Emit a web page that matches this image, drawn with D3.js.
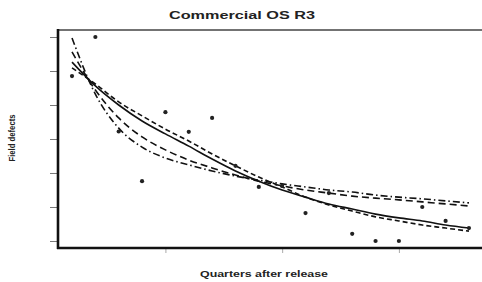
<!DOCTYPE html>
<html>
<head>
<meta charset="utf-8">
<script src="https://cdn.jsdelivr.net/npm/d3@7"></script>
<style>
  body { margin: 0; background: #fff; }
  svg { display: block; }
  text { font-family: "Liberation Sans", Arial, sans-serif; font-weight: bold; fill: #222; }
</style>
</head>
<body>
<div id="chart"></div>
<script>
// quarters after release
const quarters = [1, 2, 3, 4, 5, 6, 7, 8, 9, 10, 11, 12, 13, 14, 15, 16, 17, 18];
// observed field defects
const defects = [48.5, 60, 32.2, 17.6, 37.9, 32.1, 36.2, 22.1, 15.9, 16.2, 8.2, 14.1, 2.1, 0, 0, 10, 5.9, 3.8];
// fitted model curves
const fitSolid = [52.6, 45.6, 40.0, 35.3, 31.5, 27.9, 24.1, 20.6, 17.6, 15.0, 12.9, 10.9, 9.4, 7.9, 6.8, 5.9, 4.7, 3.8];
const fitDashed = [50.9, 46.2, 40.9, 36.8, 32.9, 29.4, 25.6, 22.1, 18.8, 15.9, 12.9, 10.6, 8.8, 7.1, 5.9, 4.7, 3.8, 2.9];
const fitLongDash = [55.6, 44.4, 36.2, 30.6, 26.8, 23.8, 21.5, 19.4, 17.6, 16.2, 15.0, 14.1, 13.2, 12.6, 12.1, 11.5, 10.9, 10.3];
const fitDashDot = [59.7, 43.2, 33.2, 27.6, 24.4, 22.4, 20.6, 19.1, 17.9, 16.8, 15.9, 15.0, 14.4, 13.5, 12.9, 12.4, 11.8, 11.2];
const xTicks = [5, 10, 15];
const yTicks = [0, 10, 20, 30, 40, 50, 60];

const W = 482, H = 282;
const svg = d3.select("#chart").append("svg").attr("width", W).attr("height", H);

const x = d3.scaleLinear().domain([0.4, 18.7]).range([58, 485.3]);
const y = d3.scaleLinear().domain([-2.06, 62.06]).range([248, 30]);

// ticks
svg.append("g")
    .attr("transform", "translate(57,0)")
    .call(d3.axisLeft(y).tickValues(yTicks).tickFormat("").tickSize(7).tickSizeOuter(0))
    .call(g => g.select(".domain").remove())
    .selectAll("line").attr("stroke", "#777");

svg.append("g")
    .attr("transform", "translate(0,249)")
    .call(d3.axisBottom(x).tickValues(xTicks).tickFormat("").tickSize(4).tickSizeOuter(0))
    .call(g => g.select(".domain").remove())
    .selectAll("line").attr("stroke", "#aaa");

// frame
svg.append("line").attr("x1", 57).attr("x2", 484).attr("y1", 30).attr("y2", 30)
    .attr("stroke", "#444").attr("stroke-width", 1.6);
svg.append("line").attr("x1", 58).attr("x2", 58).attr("y1", 29).attr("y2", 249)
    .attr("stroke", "#111").attr("stroke-width", 2.6);
svg.append("line").attr("x1", 57).attr("x2", 484).attr("y1", 248).attr("y2", 248)
    .attr("stroke", "#111").attr("stroke-width", 2.6);

// fitted curves
const line = d3.line().x((d, i) => x(quarters[i])).y(d => y(d)).curve(d3.curveMonotoneX);
const curves = [
    { values: fitSolid, dash: null },
    { values: fitDashed, dash: "5,3" },
    { values: fitLongDash, dash: "7,4" },
    { values: fitDashDot, dash: "7,3,1.5,3" }
];
svg.selectAll(".fit")
    .data(curves)
    .enter().append("path")
    .attr("class", "fit")
    .attr("d", d => line(d.values))
    .attr("fill", "none")
    .attr("stroke", "#111")
    .attr("stroke-width", 1.6)
    .attr("stroke-dasharray", d => d.dash);

// data points
svg.selectAll(".pt")
    .data(defects)
    .enter().append("circle")
    .attr("class", "pt")
    .attr("cx", (d, i) => x(quarters[i]))
    .attr("cy", d => y(d))
    .attr("r", 2.1)
    .attr("fill", "#222");

// labels
svg.append("text").attr("x", 242).attr("y", 19).attr("text-anchor", "middle")
    .attr("font-size", 11).attr("textLength", 146).attr("lengthAdjust", "spacingAndGlyphs")
    .text("Commercial OS R3");
svg.append("text").attr("x", 264).attr("y", 277).attr("text-anchor", "middle")
    .attr("font-size", 9).attr("textLength", 128).attr("lengthAdjust", "spacingAndGlyphs")
    .text("Quarters after release");
svg.append("text").attr("transform", "translate(15,138) rotate(-90)").attr("text-anchor", "middle")
    .attr("font-size", 9.5).attr("textLength", 47).attr("lengthAdjust", "spacingAndGlyphs")
    .text("Field defects");
</script>
</body>
</html>
